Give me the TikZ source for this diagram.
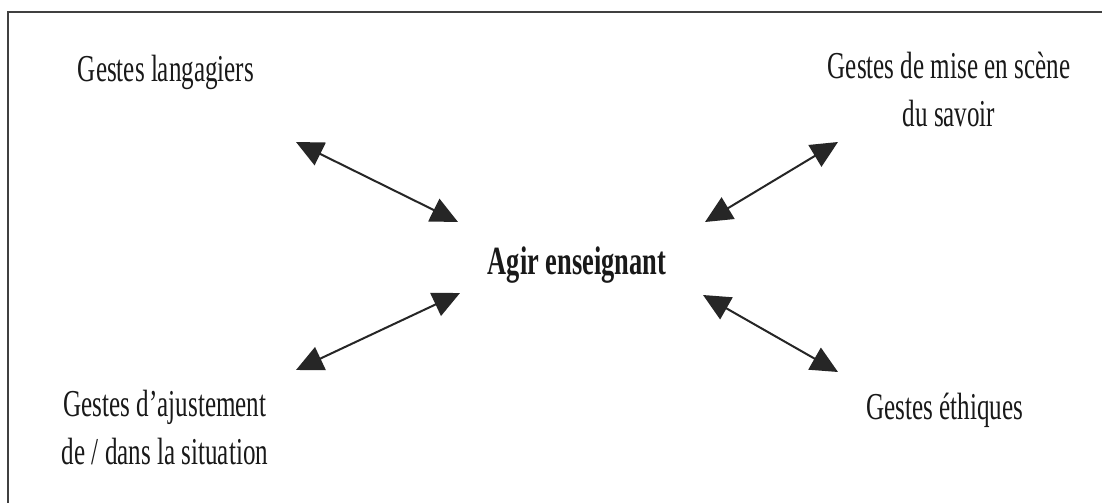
\documentclass[tikz,border=0pt]{standalone}
\usepackage{fontspec}
\setmainfont{Liberation Serif}[FakeStretch=0.66]
\usetikzlibrary{arrows.meta}
\begin{document}
\begin{tikzpicture}[x=0.5pt,y=-0.5pt,
  lbl/.style={inner sep=0pt, align=center, text=black!90, font=\fontsize{19}{24}\selectfont},
  ctr/.style={lbl, font=\fontsize{20}{24}\selectfont\bfseries},
  dbl/.style={line width=1pt, black!85, {Triangle[length=13.5pt,width=12.5pt]}-{Triangle[length=13.5pt,width=12.5pt]}},
  frame/.style={line width=1pt, black!75}]
\useasboundingbox (0,0) rectangle (1102,503);
\fill[white] (0,0) rectangle (1102,503);
\coordinate (ftr) at (1102,12);
\coordinate (ftl) at (8,12);
\coordinate (fbl) at (8,503);
\draw[frame] (ftr) -- (ftl) -- (fbl);

\node[lbl] (lang) at (166,72) {Gestes langagiers};
\node[lbl] (mise) at (949,89) {Gestes de mise en scène\\du savoir};
\node[ctr] (agir) at (577,265) {Agir enseignant};
\node[lbl] (ajust) at (165,427) {Gestes d’ajustement\\de / dans la situation};
\node[lbl] (ethi) at (945,410) {Gestes éthiques};

\coordinate (a1s) at (296,142);
\coordinate (a1e) at (458,222);
\coordinate (a2s) at (296,370);
\coordinate (a2e) at (460,293);
\coordinate (a3s) at (705,222);
\coordinate (a3e) at (838,142);
\coordinate (a4s) at (703,295);
\coordinate (a4e) at (838,372);

\draw[dbl] (a1s) -- (a1e);
\draw[dbl] (a2s) -- (a2e);
\draw[dbl] (a3s) -- (a3e);
\draw[dbl] (a4s) -- (a4e);
\end{tikzpicture}
\end{document}
